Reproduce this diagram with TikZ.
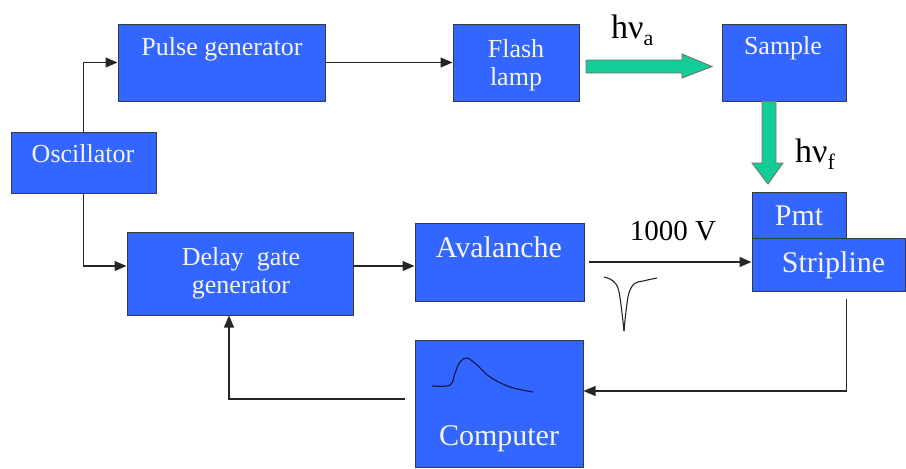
\documentclass[tikz,border=0pt]{standalone}
\usepackage{fontspec}
\setmainfont{Liberation Serif}
\newfontfamily\diagfont{Liberation Serif}
\usetikzlibrary{arrows.meta}
\definecolor{boxblue}{RGB}{51,102,255}
\definecolor{boxline}{RGB}{55,55,70}
\definecolor{beamgreen}{RGB}{20,204,150}
\definecolor{txtwhite}{RGB}{245,245,238}
\definecolor{tracecol}{RGB}{20,20,60}
\tikzset{
  blk/.style={draw=boxline, line width=1pt, fill=boxblue, rectangle, inner sep=0pt},
  lbl/.style={text=txtwhite, anchor=base, inner sep=0pt, font=\diagfont\fontsize{26}{30}\selectfont},
  lblbig/.style={lbl, font=\diagfont\fontsize{30}{34}\selectfont},
  conn/.style={draw=black!85, line width=1.1pt, -{Triangle[length=12pt,width=10pt]}},
  beam/.style={fill=beamgreen, draw=black!55, line width=0.9pt, line join=miter},
  trace/.style={draw=tracecol, line width=1.1pt},
  hnu/.style={anchor=base west, inner sep=0pt, text=black, font=\diagfont\fontsize{34}{38}\selectfont},
}
\newcommand{\subsc}[1]{{\fontsize{22}{24}\selectfont\raisebox{-7pt}{#1}}}
\begin{document}
\begin{tikzpicture}[x=1pt, y=-1pt]
\useasboundingbox (0,0) rectangle (906,469);

% boxes
\node[blk, minimum width=207pt, minimum height=77pt] (pg) at (221.5,62.5) {};
\node[blk, minimum width=145pt, minimum height=61pt] (osc) at (83.5,162.5) {};
\node[blk, minimum width=126pt, minimum height=77pt] (fl) at (516,62.5) {};
\node[blk, minimum width=124pt, minimum height=77pt] (smp) at (784,62.5) {};
\node[blk, minimum width=226pt, minimum height=83pt] (dg) at (240,273.5) {};
\node[blk, minimum width=169pt, minimum height=78pt] (av) at (499.5,262) {};
\node[blk, minimum width=168pt, minimum height=127pt] (comp) at (499,403.5) {};
\node[blk, minimum width=94pt, minimum height=46pt] (pmt) at (799,215) {};
\node[blk, minimum width=153.5pt, minimum height=53pt] (sl) at (828.75,264.5) {};

% box texts
\node[lbl] (pgt) at (222,55) {Pulse generator};
\node[lbl] (osct) at (83,162) {Oscillator};
\node[lbl] (flt1) at (516,57) {Flash};
\node[lbl] (flt2) at (516,85) {lamp};
\node[lbl] (smpt) at (783,54) {Sample};
\node[lbl] (dgt1) at (241,265) {Delay\ \ gate};
\node[lbl] (dgt2) at (241,293) {generator};
\node[lblbig] (avt) at (499,257) {Avalanche};
\node[lblbig] (compt) at (499,445) {Computer};
\node[lblbig] (pmtt) at (799,225) {Pmt};
\node[lblbig] (slt) at (833.5,272) {Stripline};

% labels
\node[anchor=base, inner sep=0pt, text=black, font=\diagfont\fontsize{29}{32}\selectfont] (volt) at (673,240) {1000 V};
\node[hnu] (hva) at (611,38) {hν\subsc{a}};
\node[hnu] (hvf) at (795,162) {hν\subsc{f}};

% connectors
\draw[conn] (osc.north) |- (pg.west);
\draw[conn] (osc.south) |- ([yshift=7.5pt]dg.west);
\draw[conn] (pg.east) -- (fl.west);
\draw[conn] ([yshift=7.5pt]dg.east) -- ([yshift=-4pt]av.west);
\draw[conn] ([xshift=4pt]av.east) -- (av.east -| sl.west);
\coordinate (slout) at ([yshift=-7pt]sl.south -| pmt.east);
\draw[conn] (slout) |- ([yshift=12.5pt]comp.east);
\coordinate (compout) at ([xshift=-10pt,yshift=4.5pt]comp.west);
\draw[conn] (compout) -| ([xshift=-11pt]dg.south);

% light beams
\draw[beam] (586,60) -- (682,60) -- (682,54) -- (712,66.5) -- (682,78) -- (682,73) -- (586,73) -- cycle;
\draw[beam] (762,101.5) -- (762,163) -- (752,163) -- (768,184) -- (783,163) -- (776,163) -- (776,101.5) -- cycle;

% pulse traces
\draw[draw=black!85, line width=1.1pt] plot[smooth, tension=0.6] coordinates {(604,277) (613,281) (619,292) (624,331)};
\draw[draw=black!85, line width=1.1pt] plot[smooth, tension=0.6] coordinates {(624,331) (628,297) (634,284) (643,281) (657,278)};
\draw[trace] plot[smooth, tension=0.6] coordinates {(432,386) (450,385) (455,373) (460,362) (467,358) (477,365) (490,377) (510,387) (533,392)};
\end{tikzpicture}
\end{document}
